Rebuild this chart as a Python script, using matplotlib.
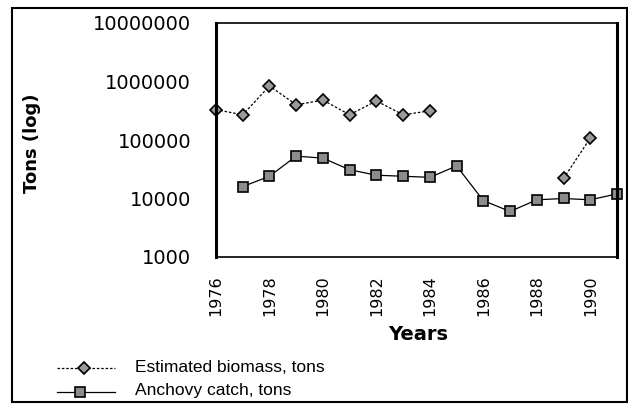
import matplotlib
matplotlib.use('Agg')
import matplotlib.pyplot as plt
import numpy as np
from matplotlib.patches import Rectangle
from matplotlib.lines import Line2D

# 데이터
bio_years = [1976, 1977, 1978, 1979, 1980, 1981, 1982, 1983, 1984, 1989, 1990]
bio_tons = [330000, 270000, 840000, 400000, 480000, 270000, 465000, 270000, 315000, 22000, 108000]

catch_years = [1977, 1978, 1979, 1980, 1981, 1982, 1983, 1984, 1985, 1986, 1987, 1988, 1989, 1990, 1991]
catch_tons = [16000, 24000, 53000, 49000, 31000, 25000, 24000, 23000, 36000, 9200, 6000, 9500, 10000, 9500, 12000]

year_ticks = [1976, 1978, 1980, 1982, 1984, 1986, 1988, 1990]
y_ticks = [1000, 10000, 100000, 1000000, 10000000]

W, H = 628, 405
fig = plt.figure(figsize=(W / 100, H / 100), dpi=100)
plt.rcParams['font.family'] = ['Liberation Sans', 'DejaVu Sans']

# 바깥 테두리
fig.patches.append(Rectangle((12 / W, 1 - 402 / H), 615 / W, 394 / H, transform=fig.transFigure,
                             fill=False, edgecolor='black', linewidth=1.5))

ax = fig.add_axes([216 / W, 1 - 257 / H, 401 / W, 234 / H])
ax.set_yscale('log')
ax.set_ylim(1000, 10000000)
ax.set_xlim(1976, 1991)

# 추정 생물량 (1985~1988 자료 없음, 두 조각으로 그림)
bio_x = np.array(bio_years, dtype=float)
bio_y = np.array(bio_tons, dtype=float)
first = bio_x <= 1984
for m in (first, ~first):
    ax.plot(bio_x[m], bio_y[m], linestyle=(0, (2, 1.5)), color='black', linewidth=0.9,
            marker='D', markersize=6.5, markerfacecolor='#9a9a9a', markeredgecolor='black',
            markeredgewidth=1.2, clip_on=False)

ax.plot(catch_years, catch_tons, linestyle='-', color='black', linewidth=0.9,
        marker='s', markersize=7.5, markerfacecolor='#8c8c8c', markeredgecolor='black',
        markeredgewidth=1.2, clip_on=False)

ax.set_yticks(y_ticks)
ax.set_yticklabels([str(v) for v in y_ticks], fontsize=14, family=['DejaVu Sans'])
ax.yaxis.set_minor_locator(matplotlib.ticker.NullLocator())
ax.set_xticks(year_ticks)
ax.set_xticklabels([str(v) for v in year_ticks], rotation=90, fontsize=11.5, family=['DejaVu Sans'])
ax.tick_params(axis='x', length=0, pad=13)
ax.tick_params(axis='y', length=0, pad=18)

for s in ('left', 'right'):
    ax.spines[s].set_linewidth(2.2)
for s in ('top', 'bottom'):
    ax.spines[s].set_linewidth(1.2)

fig.text(418 / W, 1 - 334 / H, 'Years', ha='center', va='center', fontsize=14,
         fontweight='bold', family=['DejaVu Sans'])
fig.text(32 / W, 1 - 143 / H, 'Tons (log)', ha='center', va='center', rotation=90,
         fontsize=13, fontweight='bold', family=['DejaVu Sans'])

# 범례
fig.add_artist(Line2D([57 / W, 115 / W], [1 - 368 / H] * 2, transform=fig.transFigure,
                      color='black', linestyle=(0, (2, 1.5)), linewidth=0.9))
fig.add_artist(Line2D([84 / W], [1 - 368 / H], transform=fig.transFigure, marker='D',
                      markersize=6.5, markerfacecolor='#9a9a9a', markeredgecolor='black',
                      markeredgewidth=1.2))
fig.add_artist(Line2D([57 / W, 115 / W], [1 - 392 / H] * 2, transform=fig.transFigure,
                      color='black', linestyle='-', linewidth=0.9))
fig.add_artist(Line2D([80 / W], [1 - 392 / H], transform=fig.transFigure, marker='s',
                      markersize=7.5, markerfacecolor='#8c8c8c', markeredgecolor='black',
                      markeredgewidth=1.2))
fig.text(135 / W, 1 - 367 / H, 'Estimated biomass, tons', ha='left', va='center', fontsize=12.5)
fig.text(135 / W, 1 - 391 / H, 'Anchovy catch, tons', ha='left', va='center', fontsize=12.5)

fig.savefig('out.png', dpi=100, facecolor='white')
